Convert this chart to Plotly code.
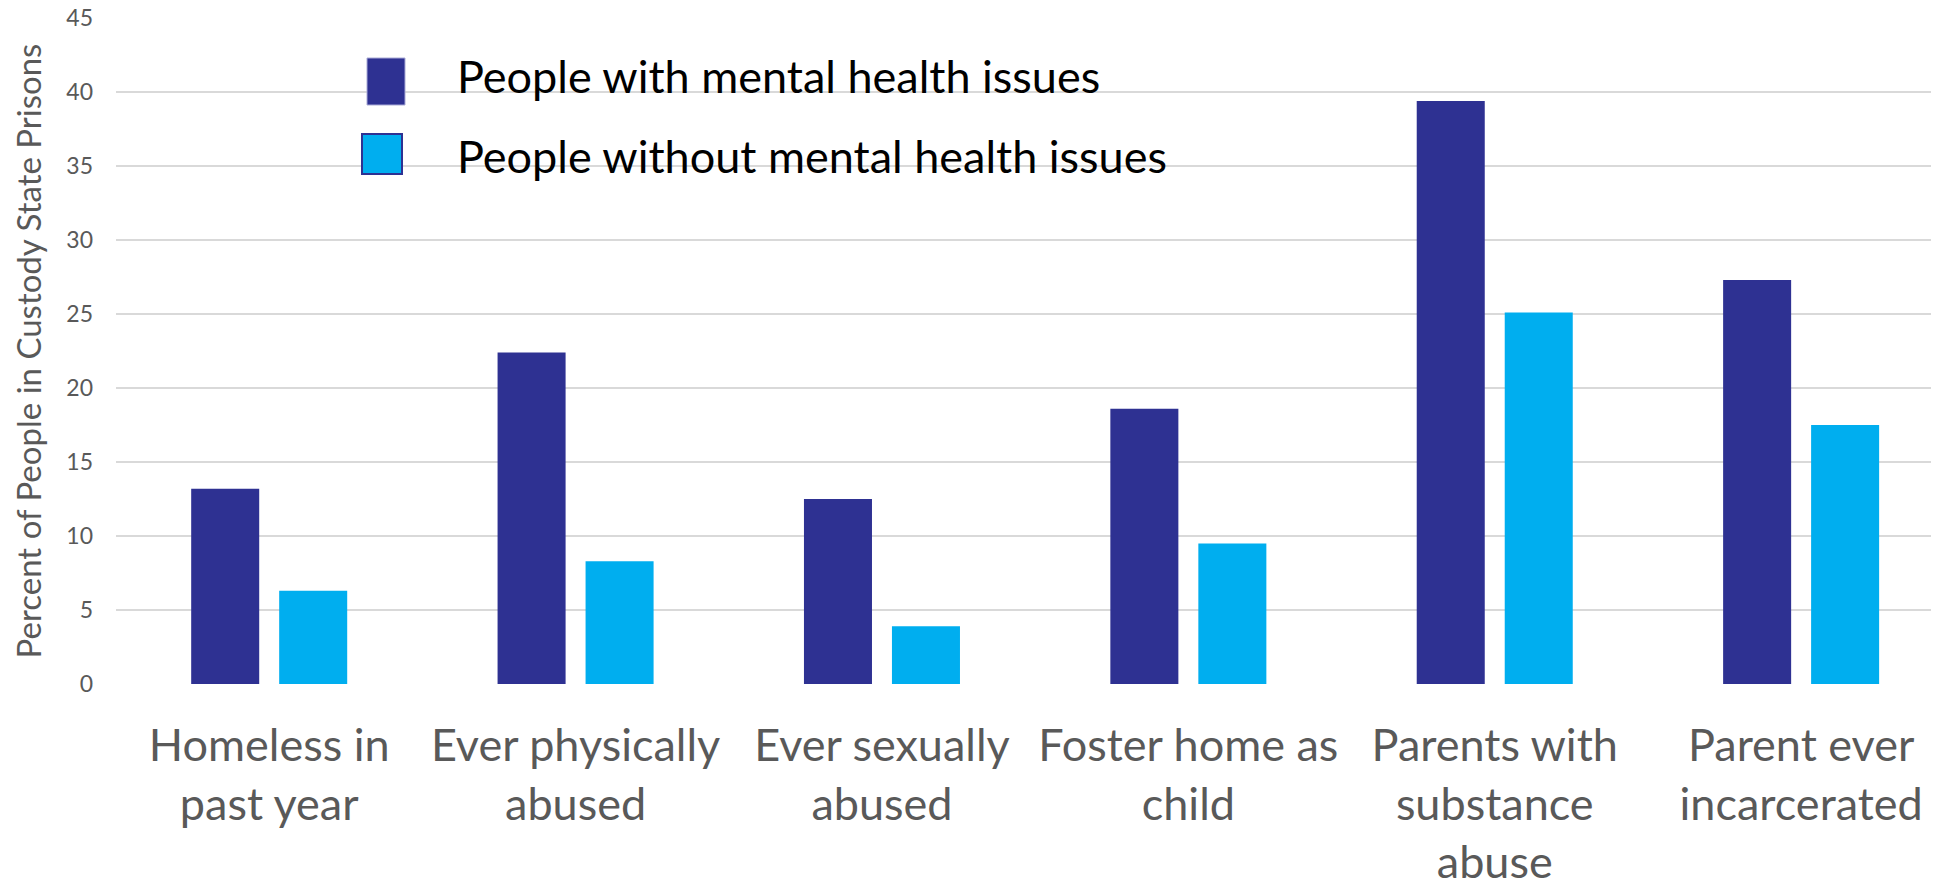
import plotly.graph_objects as go

# ---------------- data ----------------
categories = ["Homeless in past year", "Ever physically abused", "Ever sexually abused",
              "Foster home as child", "Parents with substance abuse", "Parent ever incarcerated"]
tick_labels = ["Homeless in<br>past year", "Ever physically<br>abused", "Ever sexually<br>abused",
               "Foster home as<br>child", "Parents with<br>substance<br>abuse", "Parent ever<br>incarcerated"]
series_names = ["People with mental health issues", "People without mental health issues"]
with_mh = [13.2, 22.4, 12.5, 18.6, 39.4, 27.3]
without_mh = [6.3, 8.3, 3.9, 9.5, 25.1, 17.5]
y_ticks = [0, 5, 10, 15, 20, 25, 30, 35, 40, 45]
y_title = "Percent of People in Custody State Prisons"

# ---------------- style ----------------
OFF = 8  # page body margin
W, H = 1939 - OFF, 882 - OFF
ML, MR, MT, MB = 108, 0, 10, 198
PW, PH = W - ML - MR, H - MT - MB
DARK = "#2E3192"
LIGHT = "#00AEEF"
GRAY = "#595959"
FONT = "Lato"


def px_x(p):
    return (p - OFF - ML) / PW


def px_y(p):
    return (H - MB - (p - OFF)) / PH


x_idx = list(range(len(categories)))

fig = go.Figure()
fig.add_trace(go.Bar(x=x_idx, y=with_mh, name=series_names[0], marker_color=DARK,
                     marker_line_width=0, showlegend=False))
fig.add_trace(go.Bar(x=x_idx, y=without_mh, name=series_names[1], marker_color=LIGHT,
                     marker_line_width=0, showlegend=False))

# legend drawn manually (large keys like the original)
shapes = [
    dict(type="rect", xref="paper", yref="paper",
         x0=px_x(367), x1=px_x(405), y0=px_y(105), y1=px_y(58),
         fillcolor=DARK, line=dict(color="#A9AAD6", width=1)),
    dict(type="rect", xref="paper", yref="paper",
         x0=px_x(362), x1=px_x(402), y0=px_y(174), y1=px_y(134),
         fillcolor=LIGHT, line=dict(color=DARK, width=2)),
]
annotations = [
    dict(text=series_names[0], xref="paper", yref="paper", x=px_x(455), y=px_y(76),
         xanchor="left", yanchor="middle", showarrow=False,
         font=dict(family=FONT, size=45, color="#000000")),
    dict(text=series_names[1], xref="paper", yref="paper", x=px_x(455), y=px_y(156),
         xanchor="left", yanchor="middle", showarrow=False,
         font=dict(family=FONT, size=45, color="#000000")),
]

fig.update_layout(
    width=W, height=H,
    margin=dict(l=ML, r=MR, t=MT, b=MB, pad=0, autoexpand=False),
    paper_bgcolor="white", plot_bgcolor="white",
    barmode="group", bargap=0.4256, bargroupgap=0.227,
    shapes=shapes, annotations=annotations,
    font=dict(family=FONT, color=GRAY),
)
fig.update_xaxes(
    range=[-0.5, 5.45], tickmode="array", tickvals=x_idx, ticktext=tick_labels,
    tickfont=dict(family=FONT, size=45, color=GRAY), showgrid=False, zeroline=False,
    showline=False, ticks="", ticklabelstandoff=31, automargin=False,
)
fig.update_yaxes(
    range=[0, 45], tickmode="array", tickvals=y_ticks,
    tickfont=dict(family=FONT, size=23, color=GRAY), ticklabeloverflow="allow",
    showgrid=True, gridcolor="#D9D9D9", gridwidth=1.5, zeroline=False, showline=False,
    ticks="", ticklabelstandoff=22, automargin=False,
    title=dict(text=y_title, font=dict(family=FONT, size=33, color=GRAY), standoff=14),
)

fig.write_html("out.html")
